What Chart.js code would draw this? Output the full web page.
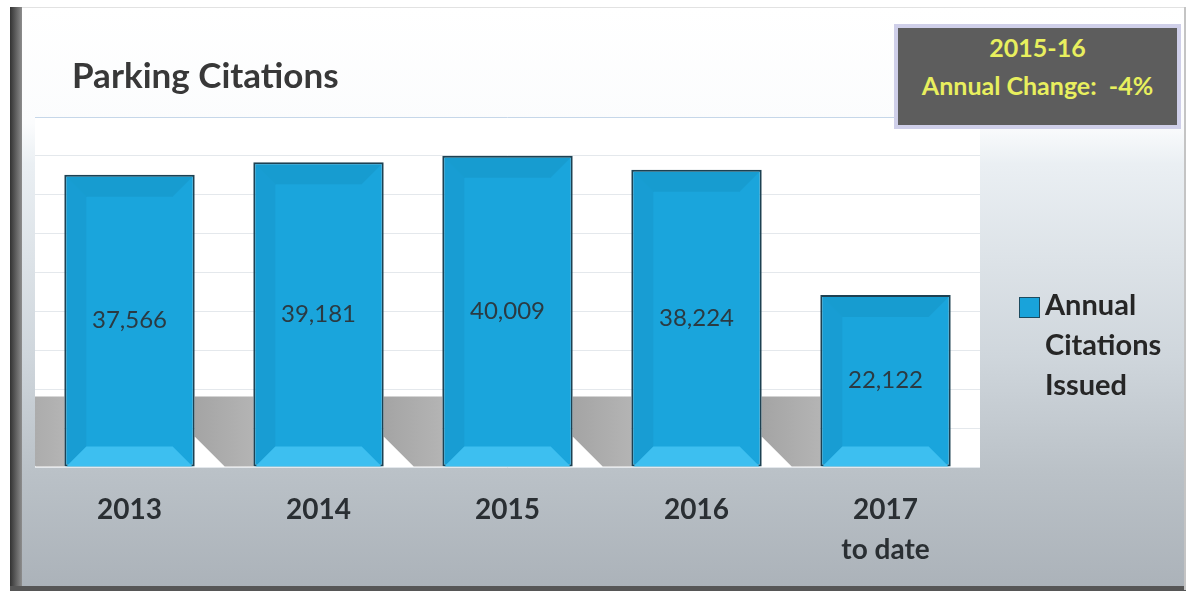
<!DOCTYPE html>
<html lang="en">
<head>
    <meta charset="UTF-8">
    <title>Parking Citations</title>
    <script src="https://cdn.jsdelivr.net/npm/chart.js"></script>
    <style>
        body { margin: 0; background: #fff; }
        #wrap { position: relative; width: 1188px; height: 595px; font-family: Lato, sans-serif; }
        #chart { position: absolute; left: 0; top: 0; }
        .title { position: absolute; left: 72px; top: 53px; font-size: 35px; font-weight: bold; color: #383838; }
        .box {
            position: absolute; left: 894px; top: 24px; width: 279px; height: 97px;
            border: 4px solid #cfcfe9; background: #5d5d5d;
            color: #e8ef5e; font-weight: bold; font-size: 25px; line-height: 38px; text-align: center;
        }
        .legend { position: absolute; left: 1019px; top: 284px; }
        .swatch { position: absolute; left: 0; top: 13px; width: 19px; height: 19px; background: #19a3da; border: 1px solid #1c4b60; }
        .legend-text { position: absolute; left: 26px; top: 0; width: 160px; font-size: 29px; font-weight: bold; line-height: 40px; color: #262626; }
    </style>
</head>
<body>
<div id="wrap">
    <canvas id="chart" width="1188" height="595"></canvas>
    <div class="title">Parking Citations</div>
    <div class="box">2015-16<br>Annual Change:&nbsp; -4%</div>
    <div class="legend">
        <div class="swatch"></div>
        <div class="legend-text">Annual<br>Citations<br>Issued</div>
    </div>
</div>

<script>
    const years = ['2013', '2014', '2015', '2016', ['2017', 'to date']];
    const citations = [37566, 39181, 40009, 38224, 22122];
    const yMax = 45000;
    const yStep = 5000;

    // panel background, frame and white plot area
    const backdrop = {
        id: 'backdrop',
        beforeDraw(chart) {
            const { ctx, width, height, chartArea: ca } = chart;
            ctx.save();
            ctx.fillStyle = '#fff';
            ctx.fillRect(0, 0, width, height);

            const g = ctx.createLinearGradient(0, 7, 0, 590);
            g.addColorStop(0, '#ffffff');
            g.addColorStop(0.2, '#fbfcfd');
            g.addColorStop(0.27, '#eaeff3');
            g.addColorStop(0.6, '#cfd6dc');
            g.addColorStop(0.8, '#bac1c7');
            g.addColorStop(1, '#abb2b9');
            ctx.fillStyle = g;
            ctx.fillRect(10, 7, 1176, 583);

            ctx.fillStyle = '#ffffff';
            ctx.fillRect(ca.left, ca.top, ca.right - ca.left, ca.bottom - ca.top);

            const side = ctx.createLinearGradient(10, 0, 22, 0);
            side.addColorStop(0, '#333');
            side.addColorStop(1, '#8d8d8d');
            ctx.fillStyle = side;
            ctx.fillRect(10, 7, 12, 583);
            ctx.fillStyle = '#565656';
            ctx.fillRect(10, 586, 1176, 5);
            ctx.fillStyle = '#c4c4c4';
            ctx.fillRect(1184, 7, 2, 583);
            ctx.fillStyle = '#e2e2e2';
            ctx.fillRect(22, 7, 1162, 1);
            ctx.restore();
        }
    };

    // grey cast shadows behind the bars
    const shadows = {
        id: 'shadows',
        beforeDatasetsDraw(chart) {
            const { ctx, chartArea: ca } = chart;
            const bars = chart.getDatasetMeta(0).data;
            const step = bars.length > 1 ? bars[1].x - bars[0].x : 100;
            ctx.save();
            ctx.beginPath();
            ctx.rect(ca.left, ca.top, ca.right - ca.left, ca.bottom - ca.top);
            ctx.clip();
            bars.forEach(bar => {
                const left = bar.x - bar.width / 2;
                const gap = step - bar.width;
                const h = 70;
                const cut = 30;
                const sg = ctx.createLinearGradient(left - gap, 0, left, 0);
                sg.addColorStop(0, '#a4a4a4');
                sg.addColorStop(1, '#b4b4b4');
                ctx.fillStyle = sg;
                ctx.beginPath();
                ctx.moveTo(left - gap, bar.base - h);
                ctx.lineTo(left, bar.base - h);
                ctx.lineTo(left, bar.base);
                ctx.lineTo(left - gap + cut, bar.base);
                ctx.lineTo(left - gap, bar.base - cut);
                ctx.closePath();
                ctx.fill();
            });
            ctx.restore();
        }
    };

    // bevel look and value labels
    const bevelLabels = {
        id: 'bevelLabels',
        afterDatasetsDraw(chart) {
            const { ctx } = chart;
            const bars = chart.getDatasetMeta(0).data;
            ctx.save();
            bars.forEach((bar, i) => {
                const l = bar.x - bar.width / 2 + 2;
                const r = bar.x + bar.width / 2 - 2;
                const t = bar.y + 2;
                const b = bar.base;
                const inset = 20;

                ctx.fillStyle = 'rgba(0, 50, 80, 0.08)';
                ctx.beginPath();
                ctx.moveTo(l, t); ctx.lineTo(r, t);
                ctx.lineTo(r - inset, t + inset); ctx.lineTo(l + inset, t + inset);
                ctx.closePath(); ctx.fill();

                ctx.fillStyle = 'rgba(0, 40, 70, 0.06)';
                ctx.beginPath();
                ctx.moveTo(l, t); ctx.lineTo(l + inset, t + inset);
                ctx.lineTo(l + inset, b - inset); ctx.lineTo(l, b);
                ctx.closePath(); ctx.fill();

                ctx.fillStyle = '#3dbff0';
                ctx.beginPath();
                ctx.moveTo(l + inset, b - inset); ctx.lineTo(r - inset, b - inset);
                ctx.lineTo(r, b); ctx.lineTo(l, b);
                ctx.closePath(); ctx.fill();

                ctx.fillStyle = '#2b3a42';
                ctx.font = '24px Lato';
                ctx.textAlign = 'center';
                ctx.textBaseline = 'middle';
                ctx.fillText(citations[i].toLocaleString('en-US'), bar.x, (bar.y + bar.base) / 2);
            });
            ctx.restore();
        }
    };

    new Chart(document.getElementById('chart'), {
        type: 'bar',
        data: {
            labels: years,
            datasets: [{
                label: 'Annual Citations Issued',
                data: citations,
                backgroundColor: '#1aa5dc',
                borderColor: '#1d4152',
                borderWidth: 2,
                borderSkipped: false,
                barPercentage: 0.69,
                categoryPercentage: 1
            }]
        },
        options: {
            responsive: false,
            animation: false,
            layout: { padding: { left: 35, right: 208, top: 117, bottom: 0 } },
            plugins: {
                legend: { display: false },
                title: { display: false },
                tooltip: { enabled: false }
            },
            scales: {
                x: {
                    grid: { display: false, drawTicks: false },
                    border: { display: false },
                    ticks: {
                        color: '#2a2f33',
                        font: { family: 'Lato', weight: 'bold', size: 28, lineHeight: 1.43 },
                        padding: 23,
                        maxRotation: 0,
                        autoSkip: false
                    },
                    afterFit(scale) { scale.height = 128; }
                },
                y: {
                    min: 0,
                    max: yMax,
                    ticks: { display: false, stepSize: yStep },
                    grid: {
                        drawTicks: false,
                        color: ctx => ctx.tick.value === yMax ? '#c6d7e9' : '#e4e8ec'
                    },
                    border: { display: false },
                    afterFit(scale) { scale.width = 0; }
                }
            }
        },
        plugins: [backdrop, shadows, bevelLabels]
    });
</script>
</body>
</html>
